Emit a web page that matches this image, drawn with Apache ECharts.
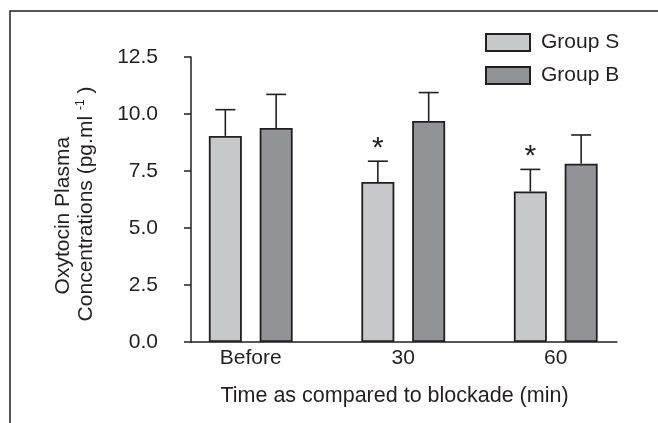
<!DOCTYPE html>
<html>
<head>
<meta charset="utf-8">
<script src="https://cdn.jsdelivr.net/npm/echarts@6/dist/echarts.min.js"></script>
<style>
  html, body { margin: 0; padding: 0; background: #fff; }
  #chart { width: 658px; height: 423px; }
</style>
</head>
<body>
<div id="chart"></div>
<script>
// values
var categories = ['Before', '30', '60'];
var groupS = [9.04, 7.02, 6.60];
var groupB = [9.39, 9.69, 7.82];
var errS = [1.15, 0.91, 0.97];
var errB = [1.47, 1.25, 1.26];
var marksS = ['', '*', '*'];
var marksB = ['', '', ''];
var yTicks = [0, 2.5, 5, 7.5, 10, 12.5];

var ink = '#231f20';
var font = 'Liberation Sans, Arial, Helvetica, sans-serif';
var barW = 33;
var barGapRatio = 0.54;
var pairOffset = (barW + barW * barGapRatio) / 2;

function errorBars (offset, marks) {
  return function (params, api) {
    var idx = api.value(0);
    var base = api.coord([idx, api.value(1)]);
    var top = api.coord([idx, api.value(2)]);
    var x = base[0] + offset;
    var line = {stroke: ink, lineWidth: 1.6};
    var children = [
      {type: 'line', shape: {x1: x, y1: base[1], x2: x, y2: top[1]}, style: line},
      {type: 'line', shape: {x1: x - 10, y1: top[1], x2: x + 10, y2: top[1]}, style: line}
    ];
    var m = marks[params.dataIndex];
    if (m) {
      children.push({
        type: 'text',
        x: x,
        y: top[1] - 12.5,
        style: {text: m, fontSize: 30, fontFamily: font, fill: ink, align: 'center', verticalAlign: 'middle'}
      });
    }
    return {type: 'group', children: children};
  };
}

function errData (means, errs) {
  return means.map(function (v, i) {
    return [i, v, v + errs[i]];
  });
}

var chart = echarts.init(document.getElementById('chart'));
chart.setOption({
  animation: false,
  textStyle: {fontFamily: font, color: ink},
  graphic: [{
    type: 'rect',
    shape: {x: 10, y: 11, width: 700, height: 500},
    style: {fill: 'none', stroke: ink, lineWidth: 1.5},
    silent: true
  }],
  legend: {
    data: ['Group S', 'Group B'],
    icon: 'rect',
    orient: 'vertical',
    left: 480,
    top: 27,
    itemWidth: 44,
    itemHeight: 17,
    itemGap: 12,
    selectedMode: false,
    textStyle: {fontSize: 21, color: ink, fontFamily: font, padding: [0, 0, 0, 6]}
  },
  grid: [
    {left: 191, right: 41, top: 57, bottom: 81},
    {left: 174.5, width: 457.5, top: 57, bottom: 81}
  ],
  xAxis: [
    {
      type: 'value',
      gridIndex: 0,
      min: 0,
      max: 1,
      axisLine: {show: true, lineStyle: {color: ink, width: 1.5}},
      axisTick: {show: false},
      axisLabel: {show: false},
      splitLine: {show: false},
      name: 'Time as compared to blockade (min)',
      nameLocation: 'middle',
      nameGap: 43,
      nameTextStyle: {fontSize: 21.5, color: ink, fontFamily: font, padding: [0, 19, 0, 0]}
    },
    {
      type: 'category',
      gridIndex: 1,
      data: categories,
      axisLine: {show: false},
      axisTick: {show: false},
      axisLabel: {fontSize: 21, color: ink, fontFamily: font, margin: 6}
    }
  ],
  yAxis: [
    {
      type: 'value',
      gridIndex: 0,
      min: yTicks[0],
      max: yTicks[yTicks.length - 1],
      interval: 2.5,
      axisLine: {show: true, lineStyle: {color: ink, width: 1.5}},
      axisTick: {show: true, length: 7, lineStyle: {color: ink, width: 1.5}},
      axisLabel: {
        fontSize: 21,
        color: ink,
        fontFamily: font,
        margin: 33,
        formatter: function (v) { return v.toFixed(1); }
      },
      splitLine: {show: false},
      name: '{a|Oxytocin Plasma    }\n{a|Concentrations (pg.ml }{s|-1}{a| )}',
      nameLocation: 'middle',
      nameRotate: 90,
      nameGap: 93,
      nameTextStyle: {
        padding: [0, 9, 0, 0],
        rich: {
          a: {fontSize: 21, lineHeight: 23, color: ink, fontFamily: font},
          s: {fontSize: 12, lineHeight: 23, color: ink, fontFamily: font, verticalAlign: 'top'}
        }
      }
    },
    {
      type: 'value',
      gridIndex: 1,
      min: yTicks[0],
      max: yTicks[yTicks.length - 1],
      show: false
    }
  ],
  series: [
    {
      name: 'Group S',
      type: 'bar',
      xAxisIndex: 1,
      yAxisIndex: 1,
      barWidth: barW,
      barGap: (barGapRatio * 100) + '%',
      itemStyle: {color: '#c7c8ca', borderColor: ink, borderWidth: 1.8},
      data: groupS
    },
    {
      name: 'Group B',
      type: 'bar',
      xAxisIndex: 1,
      yAxisIndex: 1,
      barWidth: barW,
      barGap: (barGapRatio * 100) + '%',
      itemStyle: {color: '#929396', borderColor: ink, borderWidth: 1.8},
      data: groupB
    },
    {
      name: 'errS',
      type: 'custom',
      xAxisIndex: 1,
      yAxisIndex: 1,
      renderItem: errorBars(-pairOffset, marksS),
      encode: {x: 0, y: [1, 2]},
      data: errData(groupS, errS),
      z: 3
    },
    {
      name: 'errB',
      type: 'custom',
      xAxisIndex: 1,
      yAxisIndex: 1,
      renderItem: errorBars(pairOffset, marksB),
      encode: {x: 0, y: [1, 2]},
      data: errData(groupB, errB),
      z: 3
    }
  ]
});
</script>
</body>
</html>
